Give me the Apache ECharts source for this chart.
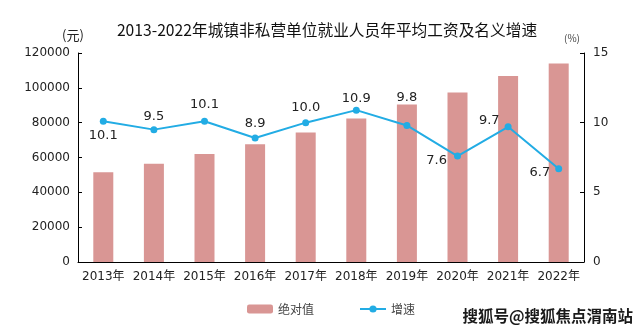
<!DOCTYPE html>
<html><head><meta charset="utf-8">
<script src="https://cdn.jsdelivr.net/npm/echarts@6/dist/echarts.min.js"></script>
<style>html,body{margin:0;padding:0;background:#fff}#c{width:643px;height:336px}</style>
</head><body><div id="c"></div>
<script>
var categories = ['2013年','2014年','2015年','2016年','2017年','2018年','2019年','2020年','2021年','2022年'];
var wageValues = [51483, 56360, 62029, 67569, 74318, 82413, 90501, 97379, 106837, 114029];
var growthValues = [10.1, 9.5, 10.1, 8.9, 10.0, 10.9, 9.8, 7.6, 9.7, 6.7];
var leftTicks = [0, 20000, 40000, 60000, 80000, 100000, 120000];
var rightTicks = [0, 5, 10, 15];
var labelPos = ['bottom','top','top','top','top','top','top','left','left','left'];
var labelOffsets = [[0,0],[0,1],[0,-3],[0,0],[0,-1],[0,2],[0,-14],[-3,5],[-1,-6],[-1,4]];

var chart = echarts.init(document.getElementById('c'));
var lineData = growthValues.map(function(v,i){
  return {value:v, label:{position:labelPos[i], offset:labelOffsets[i]}};
});
var numFont = '"DejaVu Sans", "Noto Sans CJK SC", sans-serif';
var cjkFont = '"Noto Sans CJK SC", sans-serif';
chart.setOption({
  animation:false,
  textStyle:{fontFamily:numFont},
  title:{text:'2013-2022年城镇非私营单位就业人员年平均工资及名义增速', left:322, top:17, textAlign:'center',
    textStyle:{fontSize:15.7, fontWeight:'normal', color:'#111', fontFamily:cjkFont}},
  grid:{left:78, right:59, top:53, bottom:74, containLabel:false},
  legend:{top:298, left:242, itemGap:45, itemWidth:26, itemHeight:9,
    textStyle:{fontSize:12, color:'#444', fontFamily:cjkFont},
    data:['绝对值','增速']},
  xAxis:{type:'category', data:categories,
    axisLine:{lineStyle:{color:'#000'}}, axisTick:{show:false},
    axisLabel:{color:'#222', fontSize:12, margin:9, interval:0}},
  yAxis:[
    {type:'value', min:leftTicks[0], max:leftTicks[leftTicks.length-1], interval:leftTicks[1]-leftTicks[0],
      axisLine:{show:true, lineStyle:{color:'#000'}}, axisTick:{show:true, inside:true, length:4, lineStyle:{color:'#000'}},
      splitLine:{show:false}, axisLabel:{color:'#222', fontSize:12, margin:8, formatter:function(v){return String(v);}}},
    {type:'value', min:rightTicks[0], max:rightTicks[rightTicks.length-1], interval:rightTicks[1]-rightTicks[0],
      axisLine:{show:true, lineStyle:{color:'#000'}}, axisTick:{show:true, inside:true, length:4, lineStyle:{color:'#000'}},
      splitLine:{show:false}, axisLabel:{color:'#222', fontSize:12, margin:9}}
  ],
  series:[
    {name:'绝对值', type:'bar', data:wageValues, barWidth:20, itemStyle:{color:'#d99694'}},
    {name:'增速', type:'line', yAxisIndex:1, data:lineData, symbol:'circle', symbolSize:7,
      itemStyle:{color:'#22ace4'}, lineStyle:{color:'#22ace4', width:2},
      label:{show:true, fontSize:13, color:'#222', distance:4, formatter:function(p){return p.value.toFixed(1);}}}
  ],
  graphic:[
    {type:'text', x:73, y:35, style:{text:'(元)', font:'13px "Noto Sans CJK SC"', fill:'#222', align:'center', verticalAlign:'middle'}},
    {type:'text', x:572, y:38, style:{text:'(%)', font:'10px "Noto Sans CJK SC"', fill:'#444', align:'center', verticalAlign:'middle'}},
    {type:'text', x:633, y:316, style:{text:'搜狐号@搜狐焦点渭南站', font:'bold 15.5px "Noto Sans CJK SC"', fill:'#1a1a1a', stroke:'#fff', lineWidth:2, align:'right', verticalAlign:'middle'}}
  ]
});
</script></body></html>
